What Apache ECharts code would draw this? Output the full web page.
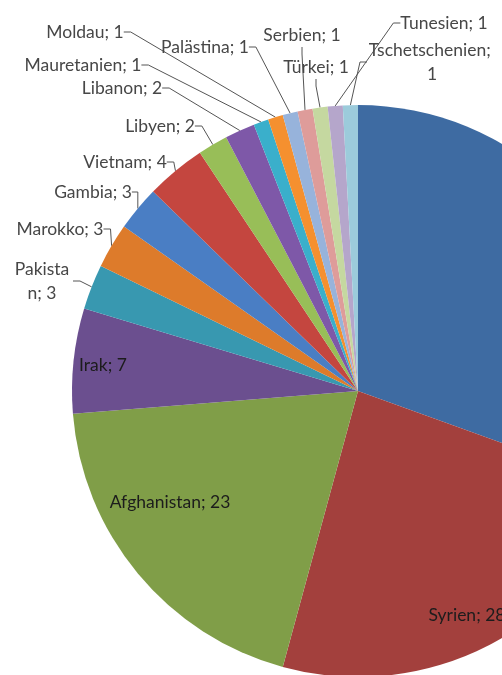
<!DOCTYPE html>
<html>
<head>
<meta charset="utf-8">
<script src="https://cdn.jsdelivr.net/npm/echarts@6/dist/echarts.min.js"></script>
<style>html,body{margin:0;padding:0;background:#fff;}#c{width:502px;height:675px;}</style>
</head>
<body>
<div id="c"></div>
<script>
// ---- data ----
const names = ['(unbekannt)', 'Syrien', 'Afghanistan', 'Irak', 'Pakistan', 'Marokko', 'Gambia', 'Vietnam',
  'Libyen', 'Libanon', 'Mauretanien', 'Moldau', 'Palästina', 'Serbien', 'Türkei', 'Tunesien', 'Tschetschenien'];
const values = [36, 28, 23, 7, 3, 3, 3, 4, 2, 2, 1, 1, 1, 1, 1, 1, 1];

// ---- styles / layout ----
const colors = ['#3E6BA2', '#A3403D', '#809E48', '#6B4F8F', '#3898B0', '#DD7B2B', '#4A7EC4', '#C4463F',
  '#98BE58', '#7E58A8', '#3AAFCB', '#F5902F', '#97B3DB', '#DE9C9A', '#C5D8A0', '#B5A6CB', '#9CCBDB'];
const insideLabels = ['Syrien', 'Afghanistan', 'Irak'];
const hiddenLabels = ['(unbekannt)'];
const labelCenters = {
  'Syrien': [467, 615], 'Afghanistan': [170, 502], 'Irak': [103, 365],
  'Pakistan': [42, 281], 'Marokko': [60, 229], 'Gambia': [93, 192], 'Vietnam': [125, 162],
  'Libyen': [160, 126], 'Libanon': [122, 88], 'Mauretanien': [83, 65], 'Moldau': [85, 32],
  'Palästina': [205, 47], 'Serbien': [302, 35], 'Türkei': [316, 67], 'Tunesien': [444, 23],
  'Tschetschenien': [432, 62]
};
const wrapWidth = { 'Pakistan': 62, 'Tschetschenien': 130 };

const FONT = 'Lato';
const FS = 17.5;

const chart = echarts.init(document.getElementById('c'), null, { renderer: 'canvas' });

const data = names.map((n, i) => {
  const inside = insideLabels.includes(n);
  const hidden = hiddenLabels.includes(n);
  const item = {
    name: n, value: values[i],
    itemStyle: { color: colors[i] },
    label: {
      show: !hidden,
      position: inside ? 'inside' : 'outside',
      color: inside ? '#1c1c1c' : '#474747',
    },
    labelLine: { show: !inside && !hidden }
  };
  if (wrapWidth[n]) {
    item.label.width = wrapWidth[n];
    item.label.overflow = n === 'Pakistan' ? 'breakAll' : 'break';
    item.label.align = 'center';
  }
  return item;
});

chart.setOption({
  backgroundColor: '#ffffff',
  animation: false,
  series: [{
    type: 'pie',
    center: [358, 391],
    radius: [0, 286],
    startAngle: 90,
    clockwise: true,
    avoidLabelOverlap: false,
    data: data,
    label: {
      formatter: '{b}; {c}',
      fontFamily: FONT,
      fontSize: FS,
      lineHeight: 24,
      align: 'center'
    },
    labelLine: {
      length: 6,
      length2: 7,
      smooth: false,
      lineStyle: { color: '#555', width: 1 }
    },
    labelLayout: function (params) {
      const c = labelCenters[names[params.dataIndex]];
      if (!c) return {};
      return { x: c[0], y: c[1], align: 'center', verticalAlign: 'middle', hideOverlap: false };
    },
    emphasis: { disabled: true }
  }]
});
</script>
</body>
</html>
